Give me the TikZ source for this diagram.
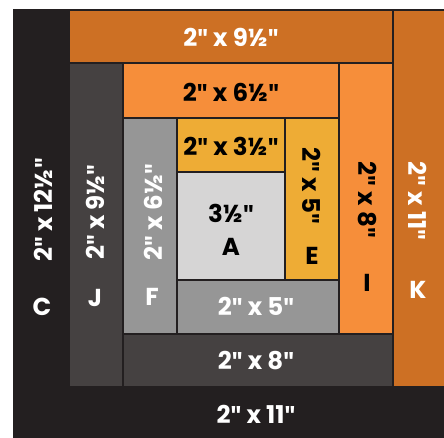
\documentclass[tikz,border=0pt]{standalone}
\usepackage{fontspec}
\setmainfont{Poppins}
\newfontfamily\inchfont{Fira Sans}
\newcommand\inchmark{{\inchfont\bfseries"}}
\definecolor{cabinblack}{HTML}{231F20}
\definecolor{cabindark}{HTML}{454141}
\definecolor{cabingray}{HTML}{969696}
\definecolor{cabinlight}{HTML}{D6D5D5}
\definecolor{cabinyellow}{HTML}{EEAC35}
\definecolor{cabinorange}{HTML}{F68E3A}
\definecolor{cabinrust}{HTML}{CD7024}

\begin{document}
\begin{tikzpicture}[x=1pt, y=-1pt,
    font=\fontsize{24.5}{24.5}\selectfont\bfseries,
    piece/.style={draw=cabinblack, line width=1.3pt},
    lab/.style={inner sep=0pt, anchor=center},
    wlab/.style={lab, text=white},
    blab/.style={lab, text=black}]

  \useasboundingbox (0,0) rectangle (444,438);

  % outer round
  \draw[piece, fill=cabinblack] (14,10) rectangle (69,440);
  \draw[piece, fill=cabinblack] (69,387) rectangle (446,440);
  \draw[piece, fill=cabinrust] (393,10) rectangle (446,387);
  \draw[piece, fill=cabinrust] (69,10) rectangle (393,63);
  % middle round
  \draw[piece, fill=cabindark] (69,63) rectangle (123,387);
  \draw[piece, fill=cabindark] (123,334) rectangle (393,387);
  \draw[piece, fill=cabinorange] (339,63) rectangle (393,334);
  \draw[piece, fill=cabinorange] (123,63) rectangle (339,118);
  % inner round
  \draw[piece, fill=cabingray] (123,118) rectangle (177,334);
  \draw[piece, fill=cabingray] (177,280) rectangle (339,334);
  \draw[piece, fill=cabinyellow] (285,118) rectangle (339,280);
  \draw[piece, fill=cabinyellow] (177,118) rectangle (285,172);
  % centre
  \draw[piece, fill=cabinlight] (177,172) rectangle (285,280);

  \node[blab] (asize) at (231,213) {3½\inchmark};
  \node[blab] (aname) at (231,247) {A};
  \node[blab] (btop) at (231,146) {2\inchmark{} x 3½\inchmark};
  \node[blab, rotate=-90] (esize) at (312,186) {2\inchmark{} x 5\inchmark};
  \node[blab] (ename) at (312,256) {E};
  \node[wlab] (dbot) at (256,306) {2\inchmark{} x 5\inchmark};
  \node[wlab, rotate=90] (fsize) at (153,212) {2\inchmark{} x 6½\inchmark};
  \node[wlab] (fname) at (152,297) {F};
  \node[blab] (gtop) at (231,92) {2\inchmark{} x 6½\inchmark};
  \node[blab, rotate=-90] (isize) at (367,200) {2\inchmark{} x 8\inchmark};
  \node[blab] (iname) at (367,283) {I};
  \node[wlab] (hbot) at (256,361) {2\inchmark{} x 8\inchmark};
  \node[wlab, rotate=90] (jsize) at (95,212) {2\inchmark{} x 9½\inchmark};
  \node[wlab] (jname) at (95,298) {J};
  \node[wlab] (ktop) at (231,37) {2\inchmark{} x 9½\inchmark};
  \node[wlab, rotate=-90] (ksize) at (418,201) {2\inchmark{} x 11\inchmark};
  \node[wlab] (kname) at (418,290) {K};
  \node[wlab] (lbot) at (256,414) {2\inchmark{} x 11\inchmark};
  \node[wlab, rotate=90] (csize) at (43,210) {2\inchmark{} x 12½\inchmark};
  \node[wlab] (cname) at (42,307) {C};
\end{tikzpicture}
\end{document}
